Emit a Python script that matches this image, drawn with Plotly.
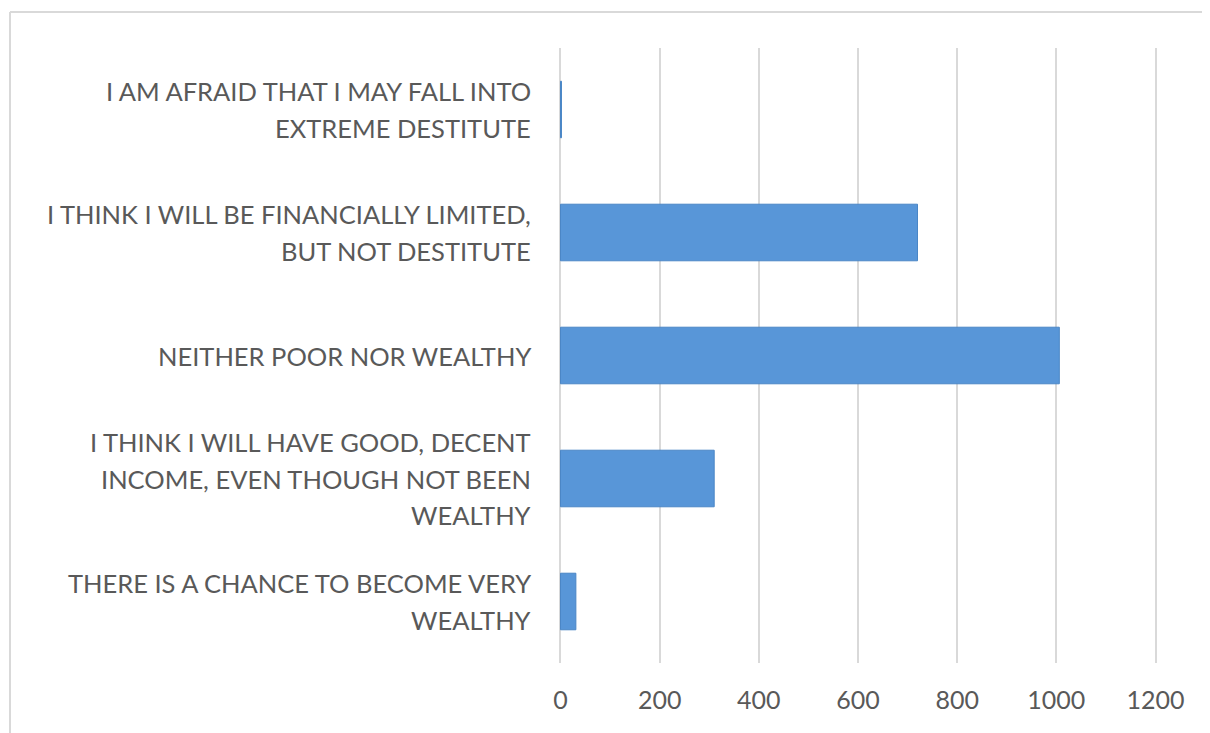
import plotly.graph_objects as go

categories = [
    "THERE IS A CHANCE TO BECOME VERY<br>WEALTHY",
    "I THINK I WILL HAVE GOOD, DECENT<br>INCOME, EVEN THOUGH NOT BEEN<br>WEALTHY",
    "NEITHER POOR NOR WEALTHY",
    "I THINK I WILL BE FINANCIALLY LIMITED,<br>BUT NOT DESTITUTE",
    "I AM AFRAID THAT I MAY FALL INTO<br>EXTREME DESTITUTE",
]
values = [31, 310, 1006, 720, 2]
tick_vals = [0, 200, 400, 600, 800, 1000, 1200]

FONT = "Lato"
GRAY = "#595959"

fig = go.Figure()
fig.add_trace(go.Bar(
    y=list(range(len(categories))),
    x=values,
    orientation="h",
    marker=dict(color="#5896d8", line=dict(color="#4a86c6", width=1)),
    width=0.46,
    hoverinfo="x",
))

annotations = []
LINE_H = 36.5
for i, cat in enumerate(categories):
    lines = cat.split("<br>")
    n = len(lines)
    for j, ln in enumerate(lines):
        offset = ((n - 1) / 2 - j) * LINE_H
        annotations.append(dict(
            x=0, y=i, xref="x", yref="y", text=ln, showarrow=False,
            xanchor="right", yanchor="middle", xshift=-27, yshift=offset,
            font=dict(family=FONT, size=25.5, color=GRAY), align="right",
        ))

# plot area: 599 px wide, 615 px tall
BX = -549 / 599
BY = 1 + 36 / 615
shapes = [
    dict(type="line", xref="paper", yref="paper", x0=BX, x1=1.2, y0=BY, y1=BY,
         line=dict(color="#d9d9d9", width=2)),
    dict(type="line", xref="paper", yref="paper", x0=BX, x1=BX, y0=-0.2, y1=BY,
         line=dict(color="#d9d9d9", width=2)),
]

fig.update_layout(
    width=1210, height=733,
    margin=dict(l=551, r=60, t=40, b=78),
    paper_bgcolor="white", plot_bgcolor="white",
    showlegend=False,
    annotations=annotations,
    shapes=shapes,
    xaxis=dict(
        range=[-3, 1205], tickvals=tick_vals, showgrid=True, gridcolor="#d9d9d9", gridwidth=2,
        zeroline=False, showline=False,
        tickfont=dict(family=FONT, size=25, color=GRAY), ticklabelstandoff=20,
    ),
    yaxis=dict(
        range=[-0.5, 4.5], showticklabels=False, showgrid=False, zeroline=False, showline=False,
    ),
)

fig.write_html("out.html")
